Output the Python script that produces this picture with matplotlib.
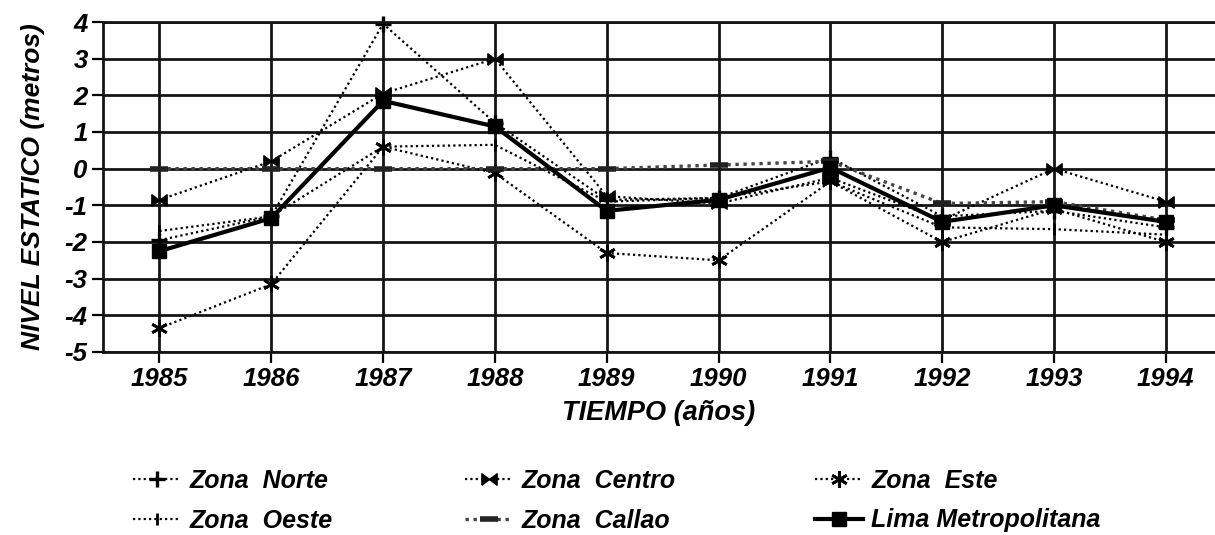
import matplotlib
matplotlib.use("Agg")
import matplotlib.pyplot as plt
import numpy as np

years = [1985, 1986, 1987, 1988, 1989, 1990, 1991, 1992, 1993, 1994]
norte = [-1.95, -1.3, 3.95, 1.25, -0.85, -0.8, 0.3, -1.3, -1.15, -1.6]
centro = [-0.85, 0.2, 2.05, 3.0, -0.75, -0.95, -0.25, -1.4, 0.0, -0.9]
este = [-4.35, -3.15, 0.6, -0.12, -2.3, -2.5, -0.35, -2.0, -1.1, -2.0]
oeste = [-1.7, -1.3, 0.6, 0.65, -0.9, -0.8, -0.35, -1.6, -1.65, -1.8]
callao = [0.0, 0.0, 0.0, 0.0, 0.0, 0.1, 0.2, -0.95, -0.9, -1.4]
lima = [-2.25, -1.35, 1.85, 1.15, -1.15, -0.85, 0.03, -1.45, -1.0, -1.45]

yticks = [4, 3, 2, 1, 0, -1, -2, -3, -4, -5]

plt.rcParams['font.family'] = ['Liberation Sans', 'DejaVu Sans']
FONT = dict(fontweight='bold', fontstyle='italic')

fig = plt.figure(figsize=(12.15, 5.35), dpi=100)
ax = fig.add_axes([103/1215, 1-352/535, (1215-103)/1215, (352-22)/535])

dot = (0, (1, 1.4))
bowtie = [(-1, -0.75), (1, 0.75), (1, -0.75), (-1, 0.75), (-1, -0.75)]

l_norte, = ax.plot(years, norte, color='black', lw=1.6, ls=dot, marker='+',
                   ms=12, mew=2.4, label='Zona  Norte', clip_on=False)
l_centro, = ax.plot(years, centro, color='black', lw=1.6, ls=dot, marker=bowtie,
                    ms=11, mew=1, label='Zona  Centro', clip_on=False)
l_este, = ax.plot(years, este, color='black', lw=1.6, ls=dot, marker=(6, 2, 0),
                  ms=12, mew=2.0, label='Zona  Este', clip_on=False)
l_oeste, = ax.plot(years, oeste, color='black', lw=1.6, ls=dot, marker='|',
                   ms=9, mew=2.0, label='Zona  Oeste', clip_on=False)
l_callao, = ax.plot(years, callao, color='#444444', lw=2.4, ls=dot, marker='_',
                    ms=13, mew=4, mec='#222222', label='Zona  Callao', clip_on=False)
l_lima, = ax.plot(years, lima, color='black', lw=3.0, ls='-', marker='s',
                  ms=10, label='Lima Metropolitana', clip_on=False, zorder=5)

ax.set_xlim(1984.495, 1994.44)
ax.set_ylim(-5, 4)
ax.set_xticks(years)
ax.set_xticklabels([str(y) for y in years], fontsize=18.5, **FONT)
ax.set_yticks(yticks)
ax.set_yticklabels([str(t) for t in yticks], fontsize=18.5, **FONT)
ax.tick_params(axis='both', direction='out', length=8, width=1.6, colors='black', pad=3)
ax.grid(True, color='#151515', lw=2.0)
ax.set_axisbelow(True)
for s in ['left', 'top', 'bottom']:
    ax.spines[s].set_linewidth(2.0)
    ax.spines[s].set_color('#151515')
ax.spines['right'].set_visible(False)

ax.set_xlabel('TIEMPO (años)', fontsize=19.5, labelpad=6, **FONT)
ax.set_ylabel('NIVEL ESTATICO (metros)', fontsize=19, labelpad=14, **FONT)

leg_kw = dict(frameon=False, loc='upper left', borderpad=0, borderaxespad=0,
              handlelength=1.9, handletextpad=0.35, labelspacing=0.62,
              prop=dict(family='Liberation Sans', weight='bold', style='italic', size=18))
cols = [([l_norte, l_oeste], 133), ([l_centro, l_callao], 465), ([l_este, l_lima], 815)]
for handles, xpx in cols:
    fig.legend(handles=handles, labels=[h.get_label() for h in handles],
               bbox_to_anchor=(xpx/1215, 1-469/535), **leg_kw)

fig.savefig('out.png', dpi=100)
